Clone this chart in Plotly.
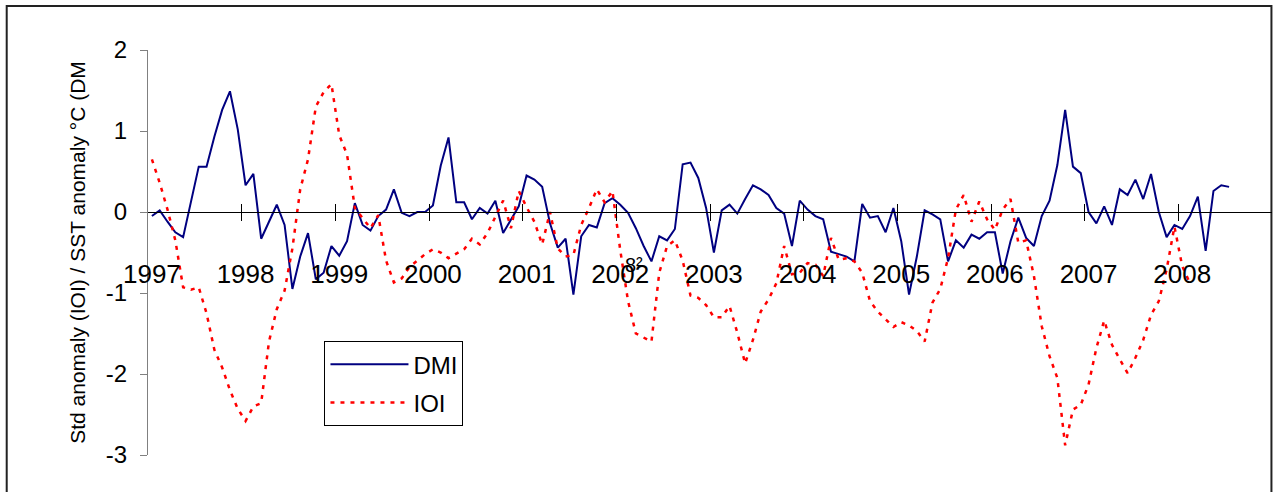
import plotly.graph_objects as go

# ---- data (monthly, Jan 1997 onward) ----
years = [str(y) for y in range(1997, 2009)]
y_ticks = [-3, -2, -1, 0, 1, 2]
y_tick_text = ["-3", "-2", "-1", "0", "1", "2"]

dmi = [-0.05, 0.02, -0.12, -0.25, -0.31, 0.13, 0.56, 0.56, 0.93, 1.26, 1.49, 1.02,
       0.33, 0.47, -0.33, -0.12, 0.09, -0.16, -0.95, -0.55, -0.26, -0.83, -0.75, -0.42,
       -0.54, -0.36, 0.11, -0.16, -0.23, -0.05, 0.03, 0.28, -0.01, -0.05, 0.0, 0.0,
       0.08, 0.57, 0.92, 0.12, 0.12, -0.09, 0.05, -0.02, 0.14, -0.26, -0.09, 0.07,
       0.45, 0.40, 0.31, -0.14, -0.44, -0.33, -1.02, -0.30, -0.16, -0.19, 0.11, 0.17,
       0.09, -0.01, -0.20, -0.42, -0.61, -0.30, -0.35, -0.21, 0.59, 0.61, 0.42, 0.05,
       -0.50, 0.02, 0.09, -0.02, 0.16, 0.33, 0.28, 0.21, 0.05, -0.02, -0.42, 0.14,
       0.03, -0.05, -0.09, -0.49, -0.52, -0.55, -0.61, 0.10, -0.07, -0.05, -0.25, 0.05,
       -0.36, -1.02, -0.55, 0.02, -0.03, -0.09, -0.61, -0.35, -0.44, -0.28, -0.33, -0.25,
       -0.25, -0.76, -0.36, -0.07, -0.32, -0.42, -0.05, 0.14, 0.58, 1.26, 0.56, 0.48,
       0.0, -0.14, 0.07, -0.16, 0.28, 0.21, 0.40, 0.16, 0.47, 0.0, -0.31, -0.16,
       -0.21, -0.05, 0.19, -0.48, 0.26, 0.33, 0.31]

ioi = [0.65, 0.36, 0.03, -0.35, -0.93, -0.96, -0.93, -1.25, -1.70, -1.92, -2.20, -2.43,
       -2.58, -2.40, -2.36, -1.60, -1.20, -0.97, -0.45, 0.28, 0.65, 1.30, 1.48, 1.58,
       0.95, 0.71, 0.05, -0.08, -0.20, -0.04, -0.60, -0.87, -0.82, -0.68, -0.60, -0.52,
       -0.46, -0.50, -0.57, -0.51, -0.46, -0.33, -0.40, -0.26, -0.05, 0.14, -0.20, 0.26,
       0.06, -0.12, -0.40, 0.0, -0.45, -0.55, -0.53, -0.16, 0.05, 0.28, 0.12, 0.26,
       -0.47, -1.10, -1.50, -1.55, -1.60, -0.75, -0.42, -0.35, -0.60, -1.03, -1.06, -1.15,
       -1.30, -1.30, -1.16, -1.49, -1.87, -1.58, -1.23, -1.08, -0.88, -0.42, -0.77, -0.75,
       -0.63, -0.65, -0.79, -0.32, -0.59, -0.57, -0.61, -0.75, -1.10, -1.23, -1.33, -1.42,
       -1.36, -1.40, -1.47, -1.60, -1.12, -0.95, -0.57, 0.03, 0.21, -0.12, 0.13, -0.09,
       -0.22, 0.03, 0.16, -0.38, -0.35, -0.79, -1.41, -1.78, -2.05, -2.88, -2.44, -2.38,
       -2.13, -1.68, -1.34, -1.64, -1.82, -1.99, -1.80, -1.58, -1.27, -1.10, -0.71, -0.18,
       -0.67, -0.88]

month_idx_dmi = list(range(len(dmi)))
month_idx_ioi = list(range(len(ioi)))
n_cat = 12 * len(years)
year_start_idx = [12 * k for k in range(len(years))]
year_bounds = [12 * k - 0.5 for k in range(1, len(years))]
xr = [-0.5, n_cat - 0.5]

FONT = "Arial, 'Liberation Sans', sans-serif"

fig = go.Figure()
fig.add_trace(go.Scatter(x=month_idx_dmi, y=dmi, name="DMI", mode="lines",
                         legendgroup="g1", xaxis="x", yaxis="y",
                         line=dict(color="#000080", width=2)))
fig.add_trace(go.Scatter(x=month_idx_ioi, y=ioi, name="IOI", mode="lines",
                         legendgroup="g2", xaxis="x2", yaxis="y",
                         line=dict(color="#FF0000", width=2.5, dash="4px,6px")))

fig.update_layout(
    width=1276, height=492, autosize=False,
    margin=dict(l=148, r=4, t=50, b=37, pad=0),
    paper_bgcolor="white", plot_bgcolor="white",
    font=dict(family=FONT, color="black"),
    showlegend=True,
    legend=dict(x=0.157, y=0.281, xanchor="left", yanchor="top",
                bordercolor="black", borderwidth=1, bgcolor="white",
                font=dict(size=24, family=FONT), itemwidth=78,
                tracegroupgap=4),
    # main category axis: zero line, year labels, outside tick marks at year boundaries
    xaxis=dict(range=xr, anchor="free", position=0.6,
               showline=True, linecolor="black", linewidth=1,
               tickmode="array", tickvals=year_start_idx, ticktext=years,
               ticks="", ticklabelstandoff=39,
               tickfont=dict(size=26, family=FONT),
               minor=dict(tickvals=year_bounds, ticks="outside", ticklen=8,
                          tickcolor="black", tickwidth=1, showgrid=False),
               showgrid=False, zeroline=False),
    # overlaid axis: inside half of the crossing tick marks
    xaxis2=dict(range=xr, overlaying="x", anchor="free", position=0.6,
                showline=False, ticks="inside", ticklen=8, tickcolor="black",
                tickwidth=1, tickmode="array", tickvals=year_bounds,
                showticklabels=False, showgrid=False, zeroline=False),
    yaxis=dict(range=[-3, 2], tickmode="array", tickvals=y_ticks, ticktext=y_tick_text,
               ticks="outside", ticklen=7, tickcolor="#808080", tickwidth=1,
               showline=True, linecolor="#808080", linewidth=1,
               showgrid=False, zeroline=False, ticklabelstandoff=8,
               tickfont=dict(size=24, family=FONT),
               title=dict(text="Std anomaly (IOI) / SST anomaly °C (DM",
                          font=dict(size=21, family=FONT), standoff=14)),
    annotations=[dict(x=61.8, y=-0.66, xref="x", yref="y", text="8²",
                      showarrow=False, font=dict(size=20, family=FONT))],
    shapes=[dict(type="rect", xref="paper", yref="paper",
                 x0=-0.1257, x1=0.9995, y0=-0.2, y1=1.1086,
                 line=dict(color="#222222", width=2), layer="below")],
)

fig.write_html("out.html", config={"displayModeBar": False},
               post_script="document.body.style.margin='0';")
